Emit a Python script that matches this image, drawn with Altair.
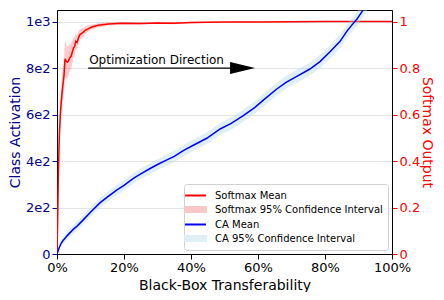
import altair as alt
import pandas as pd

# ---------------- data ----------------
sm_x = [0.000, 0.002, 0.004, 0.007, 0.010, 0.013, 0.017, 0.021, 0.024, 0.027,
        0.031, 0.034, 0.038, 0.042, 0.046, 0.049, 0.053, 0.056, 0.060, 0.064,
        0.069, 0.075, 0.084, 0.094, 0.104, 0.123, 0.153, 0.193, 0.250, 0.300,
        0.350, 0.400, 0.450, 0.500, 0.600, 0.700, 0.800, 0.900, 1.000]
sm_mean = [0.00, 0.15, 0.34, 0.51, 0.60, 0.66, 0.72, 0.77, 0.84, 0.83,
           0.825, 0.83, 0.845, 0.85, 0.87, 0.885, 0.895, 0.915, 0.91, 0.93,
           0.945, 0.95, 0.962, 0.97, 0.977, 0.984, 0.990, 0.993, 0.992, 0.994,
           0.993, 0.996, 0.997, 0.998, 0.998, 0.999, 1.000, 1.000, 1.000]
sm_hw = [0.00, 0.04, 0.06, 0.07, 0.07, 0.07, 0.07, 0.075, 0.08, 0.075,
         0.07, 0.065, 0.06, 0.055, 0.05, 0.045, 0.04, 0.035, 0.03, 0.027,
         0.022, 0.02, 0.016, 0.013, 0.011, 0.009, 0.007, 0.005, 0.004, 0.004,
         0.004, 0.003, 0.003, 0.003, 0.002, 0.002, 0.002, 0.002, 0.002]

ca_x = [0.000, 0.006, 0.012, 0.018, 0.024, 0.030, 0.039, 0.050, 0.060, 0.079,
        0.100, 0.128, 0.150, 0.178, 0.200, 0.228, 0.250, 0.278, 0.300, 0.328,
        0.350, 0.377, 0.407, 0.447, 0.487, 0.520, 0.556, 0.590, 0.616, 0.656,
        0.685, 0.720, 0.755, 0.785, 0.815, 0.845, 0.865, 0.880, 0.895, 0.916,
        0.940]
ca_mean = [0, 25, 45, 58, 68, 78, 92, 108, 120, 148,
           180, 220, 245, 275, 295, 325, 345, 368, 385, 405,
           420, 445, 468, 498, 538, 562, 595, 630, 662, 710,
           740, 768, 796, 828, 870, 915, 958, 985, 1010, 1055,
           1110]
ca_hw = [5, 10, 13, 15, 16, 17, 18, 19, 19, 20,
         20, 21, 21, 22, 22, 22, 23, 23, 23, 24,
         24, 24, 25, 25, 25, 26, 26, 26, 27, 27,
         27, 28, 28, 28, 29, 29, 29, 30, 30, 30,
         30]

x_ticks = [0, 0.2, 0.4, 0.6, 0.8, 1.0]
left_ticks = [0, 200, 400, 600, 800, 1000]
left_labels = ["0", "2e2", "4e2", "6e2", "8e2", "1e3"]
right_ticks = [0, 0.2, 0.4, 0.6, 0.8, 1]

legend_names = ["Softmax Mean", "Softmax 95% Confidence Interval",
                "CA Mean", "CA 95% Confidence Interval"]
legend_colors = ["#ff0000", "#f8c8c8", "#0000ff", "#e0eef5"]
line_sym = "M-1.9,0L1.9,0"
rect_sym = "M-1.9,-0.45L1.9,-0.45L1.9,0.45L-1.9,0.45Z"
legend_shapes = [line_sym, rect_sym, line_sym, rect_sym]

annot_text = ["Optimization Direction"]
annot_x = [0.096]
arrow_x0 = [0.093]
arrow_x1 = [0.54]
head_x = [0.554]
arrow_y = [800]

# ---------------- tables ----------------
sm_df = pd.DataFrame({"x": sm_x, "mean": sm_mean,
                      "lo": [m - h for m, h in zip(sm_mean, sm_hw)],
                      "hi": [m + h for m, h in zip(sm_mean, sm_hw)]})
ca_df = pd.DataFrame({"x": ca_x, "mean": ca_mean,
                      "lo": [m - h for m, h in zip(ca_mean, ca_hw)],
                      "hi": [m + h for m, h in zip(ca_mean, ca_hw)]})
arrow_df = pd.DataFrame({"x0": arrow_x0, "x1": arrow_x1, "hx": head_x,
                         "tx": annot_x, "y": arrow_y, "t": annot_text})
legend_df = pd.DataFrame({"series": legend_names})

FONT = "DejaVu Sans"
xscale = alt.Scale(domain=[0, 1], nice=False, zero=False)
xaxis = alt.Axis(values=x_ticks, format=".0%", title="Black-Box Transferability",
                 grid=False, labelFontSize=13, titleFontSize=14, titleFontWeight="normal",
                 labelColor="black", titleColor="black", tickColor="black",
                 domainColor="black", tickSize=5, labelPadding=2, titlePadding=4,
                 labelFlush=False)

label_expr = " : ".join(
    [f"datum.value == {v} ? '{l}'" for v, l in zip(left_ticks, left_labels)]) + " : ''"

left_scale = alt.Scale(domain=[0, 1050], nice=False)
left_axis = alt.Axis(orient="left", values=left_ticks, labelExpr=label_expr,
                     title="Class Activation", grid=True, gridColor="#e4e4e4",
                     labelFontSize=13, titleFontSize=14, titleFontWeight="normal",
                     labelColor="darkblue", titleColor="darkblue", tickColor="darkblue",
                     domainColor="black", tickSize=5, labelPadding=2, titlePadding=3)

right_scale = alt.Scale(domain=[0, 1.05], nice=False)
right_axis = alt.Axis(orient="right", values=right_ticks, format="~g",
                      title="Softmax Output", grid=False,
                      labelFontSize=13, titleFontSize=14, titleFontWeight="normal",
                      labelColor="red", titleColor="red", tickColor="red",
                      domainColor="black", tickSize=5, labelPadding=2, titlePadding=0)

X = alt.X("x:Q", scale=xscale, axis=xaxis)

sm_band = alt.Chart(sm_df).mark_area(color="#ff0000", opacity=0.2, clip=True).encode(
    x=X, y=alt.Y("lo:Q", scale=right_scale, axis=right_axis), y2="hi:Q")
sm_line = alt.Chart(sm_df).mark_line(color="#ff0000", strokeWidth=1.5, clip=True).encode(
    x=X, y=alt.Y("mean:Q", scale=right_scale, axis=right_axis))
sm_group = alt.layer(sm_band, sm_line)

ca_band = alt.Chart(ca_df).mark_area(color="#add8e6", opacity=0.4, clip=True).encode(
    x=X, y=alt.Y("lo:Q", scale=left_scale, axis=left_axis), y2="hi:Q")
ca_line = alt.Chart(ca_df).mark_line(color="#0000ff", strokeWidth=1.5, clip=True).encode(
    x=X, y=alt.Y("mean:Q", scale=left_scale, axis=left_axis))

arrow_line = alt.Chart(arrow_df).mark_rule(color="black", strokeWidth=1.2).encode(
    x=alt.X("x0:Q", scale=xscale, axis=xaxis), x2="x1:Q",
    y=alt.Y("y:Q", scale=left_scale, axis=left_axis))
arrow_head = alt.Chart(arrow_df).mark_point(
    shape="M-1,-0.48L1,0L-1,0.48Z", size=625, filled=True, color="black", opacity=1).encode(
    x=alt.X("hx:Q", scale=xscale, axis=xaxis),
    y=alt.Y("y:Q", scale=left_scale, axis=left_axis))
arrow_text = alt.Chart(arrow_df).mark_text(
    align="left", baseline="alphabetic", dy=-4, fontSize=12, font=FONT, color="black").encode(
    x=alt.X("tx:Q", scale=xscale, axis=xaxis),
    y=alt.Y("y:Q", scale=left_scale, axis=left_axis), text="t:N")

leg = alt.Legend(title=None, orient="bottom-right", offset=4, labelFontSize=10,
                 labelFont=FONT, fillColor="white", strokeColor="#d0d0d0",
                 cornerRadius=3, padding=5, rowPadding=2, labelOffset=13,
                 symbolStrokeWidth=2, symbolSize=121, labelLimit=300)
leg_scale_color = alt.Scale(domain=legend_names, range=legend_colors)
leg_scale_shape = alt.Scale(domain=legend_names, range=legend_shapes)
legend_layer = alt.Chart(legend_df).transform_filter("false").mark_point(
    filled=True, size=121, strokeWidth=2, opacity=1).encode(
    color=alt.Color("series:N", scale=leg_scale_color, legend=leg, sort=legend_names),
    stroke=alt.Stroke("series:N", scale=leg_scale_color, legend=leg, sort=legend_names),
    shape=alt.Shape("series:N", scale=leg_scale_shape, legend=leg, sort=legend_names))

ca_group = alt.layer(ca_band, ca_line, arrow_line, arrow_head, arrow_text, legend_layer)

chart = alt.layer(sm_group, ca_group).resolve_scale(y="independent").properties(
    width=335, height=244,
    autosize=alt.AutoSizeParams(type="none"),
    padding={"left": 49, "top": 2, "right": 44, "bottom": 38},
).configure(font=FONT).configure_view(stroke="black", strokeWidth=1, fill="#fafafa")

chart.save("out.html", embed_options={"renderer": "svg", "actions": False})
